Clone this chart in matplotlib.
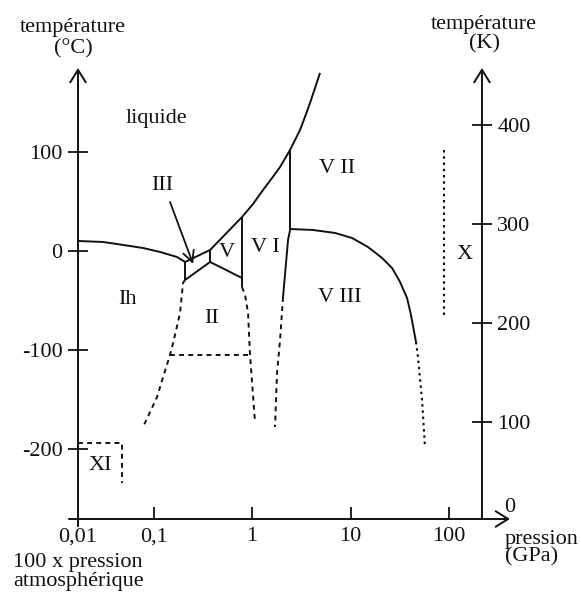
import math
import matplotlib
matplotlib.use("Agg")
import matplotlib.pyplot as plt

plt.rcParams['font.family'] = ['Liberation Serif', 'DejaVu Serif']

# ---------------- data (pressure in GPa, temperature in °C) ----------------
p_origin = 0.0171          # drawn origin of the pressure axis (labelled "0,01")
p_end = 416.0              # tip of the pressure arrow
t_min, t_max = -270.7, 184.8
p_kaxis = 216.0            # pressure at which the kelvin axis is drawn

x_ticks = [0.1, 1, 10, 100]
x_tick_labels = ['0,1', '1', '10', '100']
x_origin_label = '0,01'
c_ticks = [100, 0, -100, -200]
c_tick_labels = ['100', '0', '-100', '-200']
k_ticks = [100, 200, 300, 400]
k_tick_labels = ['100', '200', '300', '400']
k_zero_label = '0'

# solid boundaries
ih_liq_p = [0.0171, 0.0307, 0.049, 0.0782, 0.1164, 0.1732, 0.209]
ih_liq_t = [10.1, 9.1, 6.1, 3.0, -1.0, -6.1, -11.1]
ih_iii_p = [0.209, 0.209]
ih_iii_t = [-11.1, -29.3]
iii_liq_p = [0.209, 0.375]
iii_liq_t = [-11.1, 1.0]
iii_ii_p = [0.209, 0.375]
iii_ii_t = [-29.3, -11.1]
iii_v_p = [0.375, 0.375]
iii_v_t = [1.0, -11.1]
v_liq_p = [0.375, 0.791]
v_liq_t = [1.0, 34.3]
v_ii_p = [0.375, 0.791]
v_ii_t = [-11.1, -27.3]
v_vi_p = [0.791, 0.791]
v_vi_t = [34.3, -36.4]
melt_p = [0.791, 1.024, 1.293, 1.596, 1.925, 2.432, 3.07, 3.45, 3.88, 4.36, 4.90]
melt_t = [34.3, 47.5, 61.6, 73.7, 84.8, 102.0, 122.2, 135.4, 149.5, 164.6, 179.8]
vi_vii_p = [2.432, 2.432]
vi_vii_t = [102.0, 21.2]
vi_viii_p = [2.432, 2.32, 2.064]
vi_viii_t = [21.2, 11.1, -46.5]
vii_viii_p = [2.432, 4.16, 6.96, 10.36, 15.05, 20.9, 26.4, 31.8, 37.5, 41.1, 46.2]
vii_viii_t = [22.2, 21.2, 18.2, 13.1, 4.0, -7.1, -17.2, -31.3, -47.5, -64.6, -91.9]

# dashed / dotted (uncertain) boundaries
ih_ii_p = [0.209, 0.199, 0.186, 0.158, 0.147, 0.125, 0.1085, 0.0782]
ih_ii_t = [-29.3, -32.3, -62.6, -92.9, -105.1, -127.3, -147.5, -177.8]
ii_low_p = [0.147, 0.954]
ii_low_t = [-105.1, -105.1]
ii_vi_p = [0.791, 0.849, 0.911, 0.954, 1.073]
ii_vi_t = [-36.4, -44.4, -62.6, -105.1, -173.7]
vi_viii_d_p = [2.064, 1.925, 1.794, 1.712]
vi_viii_d_t = [-46.5, -89.9, -123.2, -177.8]
viii_x_p = [46.2, 48.4, 53.2, 57.0]
viii_x_t = [-91.9, -107.1, -150.5, -198.0]
x_line_p = [89.0, 89.0]
x_line_t = [102.0, -64.6]
xi_box_p = [0.0171, 0.0479, 0.0479]
xi_box_t = [-193.9, -193.9, -234.3]

# phase labels
phase_names = ['liquide', 'Ih', 'II', 'V', 'V I', 'V II', 'V III', 'X', 'XI']
phase_p = [0.106, 0.0538, 0.393, 0.557, 1.355, 7.29, 7.82, 145.0, 0.0286]
phase_t = [134.3, -49.5, -67.7, -2.0, 4.0, 83.8, -46.5, -4.0, -216.2]
iii_label = 'III'
iii_label_pt = (0.122, 65.7)
iii_arrow_from = (0.147, 49.5)
iii_arrow_to = (0.252, -13.1)

# ---------------- figure ----------------
W, H = 581, 592
fig = plt.figure(figsize=(W / 100, H / 100), dpi=100)
ax = fig.add_axes([78 / W, (H - 519) / H, (510 - 78) / W, (519 - 68) / H])
ax.set_xscale('log')
ax.set_xlim(p_origin, p_end)
ax.set_ylim(t_min, t_max)
for s in ax.spines.values():
    s.set_visible(False)

FS = 16
lw = 1.4
ink = '#111111'

ax.set_xticks(x_ticks, labels=x_tick_labels)
ax.set_xticks([p_origin], labels=[x_origin_label], minor=True)
ax.tick_params(axis='x', which='major', direction='in', length=8.5, width=1.3,
               pad=6, labelsize=FS, colors=ink)
ax.tick_params(axis='x', which='minor', length=0, pad=6, labelsize=FS, colors=ink)
ax.set_yticks(c_ticks, labels=c_tick_labels)
ax.tick_params(axis='y', which='major', direction='inout', length=14, width=1.3,
               pad=4, labelsize=FS, colors=ink)
ax.tick_params(axis='y', which='minor', length=0)

kloc = (math.log10(p_kaxis) - math.log10(p_origin)) / (math.log10(p_end) - math.log10(p_origin))
sec = ax.secondary_yaxis(kloc, functions=(lambda t: t + 273, lambda k: k - 273))
for s in sec.spines.values():
    s.set_visible(False)
sec.set_yticks(k_ticks, labels=k_tick_labels)
sec.tick_params(axis='y', which='major', direction='inout', length=14, width=1.3,
                pad=4, labelsize=FS, colors=ink)
sec.tick_params(axis='y', which='minor', length=0)

arrow = dict(arrowstyle='->,head_length=0.45,head_width=0.28', lw=1.4, color=ink,
             shrinkA=0, shrinkB=0, mutation_scale=20)
ax.annotate('', xy=(1.0, 0), xytext=(-0.021, 0), xycoords='axes fraction',
            arrowprops=arrow, annotation_clip=False)
ax.annotate('', xy=(0, 1.0), xytext=(0, -0.016), xycoords='axes fraction',
            arrowprops=arrow, annotation_clip=False)
ax.annotate('', xy=(kloc, 1.0), xytext=(kloc, 0), xycoords='axes fraction',
            arrowprops=arrow, annotation_clip=False)
ax.annotate(k_zero_label, xy=(kloc, 0), xycoords='axes fraction', xytext=(28, 11),
            textcoords='offset pixels', ha='center', va='center', fontsize=FS, color=ink)

solid = [(ih_liq_p, ih_liq_t), (ih_iii_p, ih_iii_t), (iii_liq_p, iii_liq_t),
         (iii_ii_p, iii_ii_t), (iii_v_p, iii_v_t), (v_liq_p, v_liq_t),
         (v_ii_p, v_ii_t), (v_vi_p, v_vi_t), (melt_p, melt_t),
         (vi_vii_p, vi_vii_t), (vi_viii_p, vi_viii_t), (vii_viii_p, vii_viii_t)]
for p, t in solid:
    ax.plot(p, t, color=ink, lw=lw, solid_capstyle='butt', solid_joinstyle='round')

dashed = [(ih_ii_p, ih_ii_t), (ii_low_p, ii_low_t), (ii_vi_p, ii_vi_t),
          (vi_viii_d_p, vi_viii_d_t), (xi_box_p, xi_box_t)]
for p, t in dashed:
    ax.plot(p, t, color=ink, lw=1.4, linestyle=(0, (2.5, 2.2)))
dotted = [(viii_x_p, viii_x_t), (x_line_p, x_line_t)]
for p, t in dotted:
    ax.plot(p, t, color=ink, lw=1.5, linestyle=(0, (1.2, 1.8)))

for name, p, t in zip(phase_names, phase_p, phase_t):
    ax.text(p, t, name, ha='center', va='center', fontsize=FS, color=ink)
ax.text(*iii_label_pt, iii_label, ha='center', va='center', fontsize=FS, color=ink)
ax.annotate('', xy=iii_arrow_to, xytext=iii_arrow_from,
            arrowprops=dict(arrowstyle='->,head_length=0.4,head_width=0.2', lw=1.3,
                            color=ink, shrinkA=0, shrinkB=0, mutation_scale=20))


def ftext(x, y, s, **kw):
    fig.text(x / W, 1 - y / H, s, fontsize=FS, color=ink, **kw)


ftext(73, 38, 'température\n(°C)', ha='center', va='center', linespacing=1.15)
ftext(484, 34, 'température\n(K)', ha='center', va='center', linespacing=1.0)
ftext(505, 548, 'pression\n(GPa)', ha='left', va='center', linespacing=0.9)
ftext(13, 572, '100 x pression\natmosphérique', ha='left', va='center', linespacing=0.95)

fig.savefig('out.png', dpi=100)
